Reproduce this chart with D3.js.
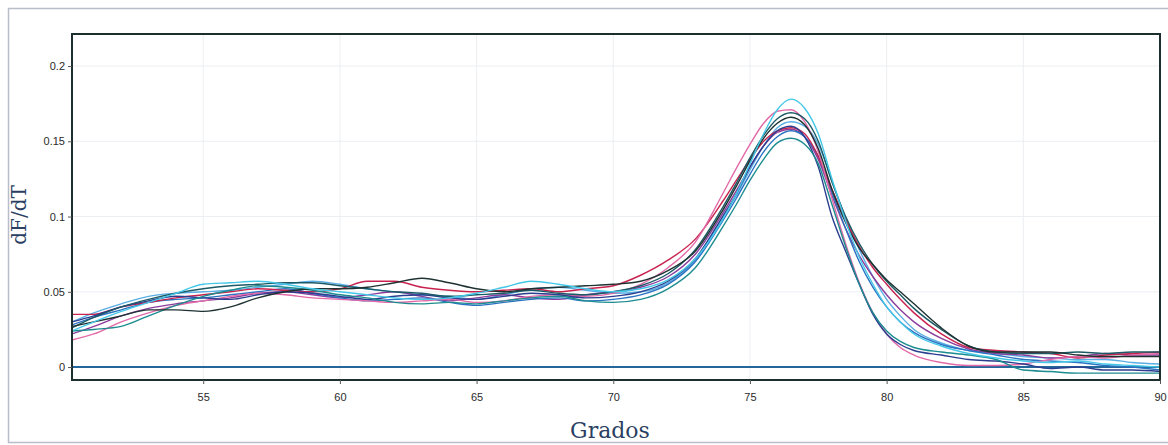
<!DOCTYPE html>
<html>
<head>
<meta charset="utf-8">
<script src="https://cdn.jsdelivr.net/npm/d3@7"></script>
<style>
  body { margin: 0; background: #fff; }
  svg { display: block; }
</style>
</head>
<body>
<svg id="chart" width="1168" height="445"></svg>
<script>
// temperature grid (Grados)
const temps = [50.2, 51, 52, 53, 54, 55, 56, 57, 58, 59, 60, 61, 62, 63, 64, 65, 66, 67, 68, 69, 70, 71, 72, 73, 74, 74.5, 75, 75.5, 76, 76.5, 77, 77.5, 78, 78.5, 79, 79.5, 80, 80.5, 81, 82, 83, 84, 85, 86, 87, 88, 89, 90];

// dF/dT per sample
const sBlack = [0.027, 0.030, 0.034, 0.038, 0.038, 0.037, 0.040, 0.046, 0.050, 0.052, 0.052, 0.053, 0.056, 0.059, 0.056, 0.052, 0.050, 0.052, 0.053, 0.054, 0.055, 0.057, 0.064, 0.077, 0.104, 0.120, 0.137, 0.152, 0.162, 0.166, 0.161, 0.145, 0.118, 0.096, 0.079, 0.068, 0.058, 0.050, 0.042, 0.026, 0.014, 0.010, 0.010, 0.010, 0.008, 0.007, 0.007, 0.007];
const sNavy = [0.030, 0.034, 0.040, 0.044, 0.047, 0.046, 0.045, 0.048, 0.050, 0.049, 0.047, 0.045, 0.047, 0.048, 0.046, 0.045, 0.047, 0.049, 0.048, 0.046, 0.047, 0.050, 0.057, 0.072, 0.100, 0.115, 0.133, 0.147, 0.157, 0.160, 0.153, 0.133, 0.100, 0.077, 0.055, 0.035, 0.022, 0.015, 0.011, 0.008, 0.005, 0.004, 0.002, -0.001, 0.000, -0.002, -0.002, -0.003];
const sCrimson = [0.035, 0.035, 0.040, 0.043, 0.046, 0.048, 0.050, 0.052, 0.051, 0.050, 0.052, 0.057, 0.057, 0.053, 0.051, 0.050, 0.051, 0.052, 0.050, 0.052, 0.054, 0.061, 0.071, 0.085, 0.110, 0.124, 0.138, 0.150, 0.157, 0.159, 0.155, 0.140, 0.118, 0.098, 0.080, 0.066, 0.055, 0.045, 0.036, 0.022, 0.013, 0.011, 0.010, 0.009, 0.006, 0.008, 0.009, 0.010];
const sPink = [0.018, 0.022, 0.030, 0.036, 0.041, 0.044, 0.047, 0.049, 0.048, 0.046, 0.045, 0.044, 0.043, 0.044, 0.045, 0.043, 0.044, 0.047, 0.048, 0.047, 0.049, 0.055, 0.066, 0.083, 0.115, 0.132, 0.148, 0.162, 0.170, 0.171, 0.163, 0.143, 0.112, 0.082, 0.056, 0.036, 0.022, 0.013, 0.008, 0.003, 0.001, 0.001, 0.002, 0.005, 0.007, 0.006, 0.008, 0.009];
const sPurple = [0.022, 0.027, 0.034, 0.039, 0.042, 0.044, 0.046, 0.049, 0.050, 0.048, 0.046, 0.048, 0.050, 0.047, 0.044, 0.046, 0.048, 0.046, 0.045, 0.048, 0.050, 0.053, 0.060, 0.075, 0.102, 0.117, 0.133, 0.147, 0.156, 0.158, 0.153, 0.138, 0.114, 0.092, 0.074, 0.060, 0.048, 0.038, 0.030, 0.019, 0.012, 0.009, 0.008, 0.006, 0.007, 0.009, 0.008, 0.008];
const sCyan = [0.024, 0.030, 0.037, 0.043, 0.049, 0.055, 0.056, 0.057, 0.055, 0.052, 0.050, 0.048, 0.046, 0.045, 0.046, 0.049, 0.053, 0.057, 0.055, 0.052, 0.050, 0.052, 0.058, 0.072, 0.098, 0.115, 0.135, 0.155, 0.171, 0.178, 0.172, 0.155, 0.125, 0.097, 0.073, 0.055, 0.040, 0.030, 0.022, 0.014, 0.009, 0.006, 0.004, 0.003, 0.004, 0.002, 0.001, 0.000];
const sTeal = [0.024, 0.025, 0.027, 0.034, 0.041, 0.047, 0.051, 0.054, 0.053, 0.051, 0.048, 0.046, 0.043, 0.042, 0.043, 0.042, 0.044, 0.046, 0.047, 0.044, 0.043, 0.045, 0.052, 0.066, 0.093, 0.108, 0.124, 0.138, 0.149, 0.152, 0.148, 0.135, 0.108, 0.080, 0.055, 0.036, 0.024, 0.017, 0.013, 0.010, 0.008, 0.005, -0.002, -0.003, -0.004, -0.004, -0.004, -0.004];
const sBlue = [0.028, 0.033, 0.038, 0.043, 0.045, 0.046, 0.048, 0.050, 0.052, 0.049, 0.046, 0.044, 0.045, 0.046, 0.043, 0.041, 0.043, 0.045, 0.046, 0.044, 0.045, 0.048, 0.055, 0.070, 0.097, 0.112, 0.128, 0.143, 0.153, 0.157, 0.153, 0.140, 0.116, 0.092, 0.070, 0.053, 0.040, 0.030, 0.023, 0.015, 0.011, 0.008, 0.005, 0.004, 0.003, 0.001, 0.000, -0.002];
const sLightBlue = [0.030, 0.036, 0.042, 0.047, 0.049, 0.050, 0.051, 0.053, 0.055, 0.057, 0.055, 0.052, 0.050, 0.048, 0.047, 0.045, 0.048, 0.052, 0.053, 0.051, 0.049, 0.050, 0.056, 0.071, 0.099, 0.114, 0.131, 0.147, 0.159, 0.163, 0.160, 0.148, 0.124, 0.099, 0.078, 0.060, 0.045, 0.034, 0.025, 0.016, 0.011, 0.009, 0.007, 0.006, 0.005, 0.005, 0.003, 0.002];
const sDarkTeal = [0.026, 0.033, 0.040, 0.045, 0.049, 0.052, 0.054, 0.055, 0.056, 0.056, 0.054, 0.052, 0.050, 0.049, 0.047, 0.048, 0.049, 0.051, 0.049, 0.048, 0.050, 0.054, 0.062, 0.078, 0.106, 0.122, 0.139, 0.154, 0.165, 0.169, 0.165, 0.150, 0.123, 0.100, 0.082, 0.068, 0.057, 0.048, 0.039, 0.025, 0.014, 0.010, 0.009, 0.009, 0.010, 0.009, 0.010, 0.010];

const xTicks = [55, 60, 65, 70, 75, 80, 85, 90];
const yTicks = [0, 0.05, 0.1, 0.15, 0.2];

const series = [
  { values: sLightBlue, color: '#5aaee4' },
  { values: sPurple, color: '#8a3d9c' },
  { values: sBlue, color: '#2a73c2' },
  { values: sCrimson, color: '#c8234f' },
  { values: sPink, color: '#e36aa8' },
  { values: sNavy, color: '#2c3e8f' },
  { values: sTeal, color: '#1d8c90' },
  { values: sDarkTeal, color: '#1b5a66' },
  { values: sBlack, color: '#1e3232' },
  { values: sCyan, color: '#45c8e8' }
];

const svg = d3.select('#chart');
const margin = { top: 34, right: 8, bottom: 65, left: 72 };
const width = 1168, height = 445;

const x = d3.scaleLinear().domain([50.2, 90]).range([margin.left, width - margin.right]);
const y = d3.scaleLinear().domain([-0.0086, 0.2213]).range([height - margin.bottom, margin.top]);

// outer frame
svg.append('rect')
  .attr('x', 8.5).attr('y', 8.5)
  .attr('width', 1170).attr('height', 434)
  .attr('fill', 'none')
  .attr('stroke', '#b9bdc9')
  .attr('stroke-width', 1.5);

// grid
svg.append('g')
  .selectAll('line')
  .data(yTicks.slice(1))
  .enter()
  .append('line')
  .attr('x1', margin.left).attr('x2', width - margin.right)
  .attr('y1', d => y(d)).attr('y2', d => y(d))
  .attr('stroke', '#eceef2')
  .attr('stroke-width', 1);
svg.append('g')
  .selectAll('line')
  .data(xTicks.slice(0, -1))
  .enter()
  .append('line')
  .attr('x1', d => x(d)).attr('x2', d => x(d))
  .attr('y1', margin.top).attr('y2', height - margin.bottom)
  .attr('stroke', '#eceef2')
  .attr('stroke-width', 1);

// zero line
svg.append('line')
  .attr('x1', margin.left).attr('x2', width - margin.right)
  .attr('y1', y(0)).attr('y2', y(0))
  .attr('stroke', '#23679a')
  .attr('stroke-width', 2);

// curves
svg.append('clipPath').attr('id', 'clip')
  .append('rect')
  .attr('x', margin.left).attr('y', margin.top)
  .attr('width', width - margin.right - margin.left)
  .attr('height', height - margin.bottom - margin.top);

const line = d3.line()
  .x((d, i) => x(temps[i]))
  .y(d => y(d))
  .curve(d3.curveMonotoneX);

svg.append('g')
  .attr('clip-path', 'url(#clip)')
  .selectAll('path')
  .data(series)
  .enter()
  .append('path')
  .attr('d', d => line(d.values))
  .attr('fill', 'none')
  .attr('stroke', d => d.color)
  .attr('stroke-width', 1.4);

// plot frame
svg.append('rect')
  .attr('x', margin.left).attr('y', margin.top)
  .attr('width', width - margin.right - margin.left)
  .attr('height', height - margin.bottom - margin.top)
  .attr('fill', 'none')
  .attr('stroke', '#1c2e2e')
  .attr('stroke-width', 2);

// axes
const yAxis = svg.append('g')
  .attr('transform', `translate(${margin.left},0)`)
  .call(d3.axisLeft(y).tickValues(yTicks).tickSize(4).tickPadding(3).tickFormat(d => d === 0 ? '0' : String(d)));
const xAxis = svg.append('g')
  .attr('transform', `translate(0,${height - margin.bottom})`)
  .call(d3.axisBottom(x).tickValues(xTicks).tickSize(4).tickPadding(9).tickFormat(d3.format('d')));
[yAxis, xAxis].forEach(g => {
  g.select('.domain').remove();
  g.selectAll('line').attr('stroke', '#555');
  g.selectAll('text')
    .attr('fill', '#2a2a2a')
    .attr('font-family', 'Liberation Sans, Arial, sans-serif')
    .attr('font-size', 11);
});

// axis titles
svg.append('text')
  .attr('x', 610).attr('y', 438)
  .attr('text-anchor', 'middle')
  .attr('font-family', 'DejaVu Serif, Liberation Serif, serif')
  .attr('font-size', 22)
  .attr('fill', '#2b3f63')
  .text('Grados');
svg.append('text')
  .attr('transform', 'translate(26,215) rotate(-90)')
  .attr('text-anchor', 'middle')
  .attr('font-family', 'DejaVu Serif, Liberation Serif, serif')
  .attr('font-size', 20)
  .attr('fill', '#2b3f63')
  .text('dF/dT');
</script>
</body>
</html>
